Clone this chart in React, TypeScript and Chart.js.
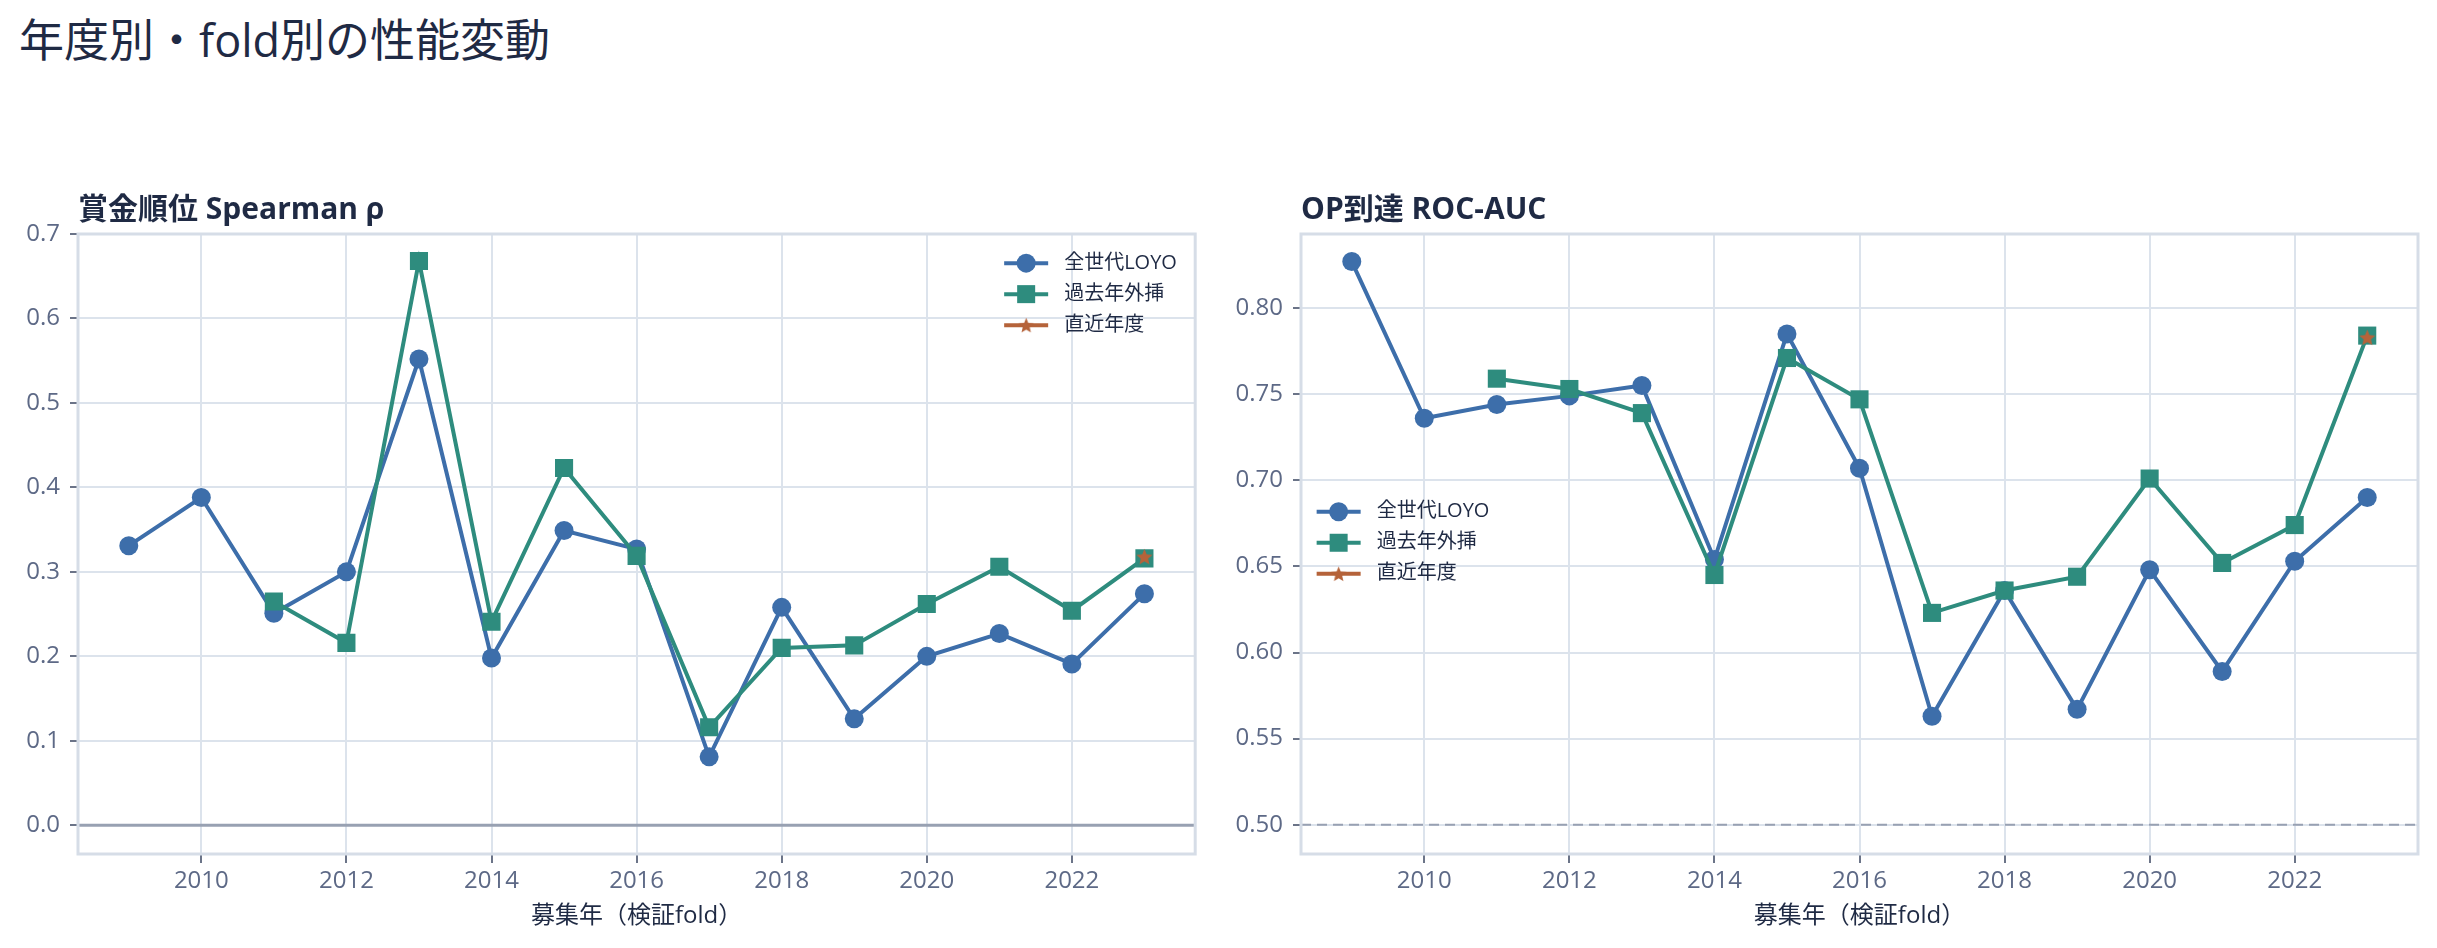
import { Chart, registerables, type ChartConfiguration, type Plugin } from "chart.js";
import { useEffect, useRef } from "react";

Chart.register(...registerables);

const FONT = '"Open Sans", "Noto Sans CJK JP", sans-serif';
const TEXT = "#1f2a44";
const TICK_TEXT = "#5d6986";
const GRID = "#dce3ec";
const FRAME = "#d6dde7";

const YEARS = [2009, 2010, 2011, 2012, 2013, 2014, 2015, 2016, 2017, 2018, 2019, 2020, 2021, 2022, 2023];
const X_TICKS = [2010, 2012, 2014, 2016, 2018, 2020, 2022];

const SERIES_NAMES = ["全世代LOYO", "過去年外挿", "直近年度"];
const SERIES_COLORS = ["#3d6eaa", "#2e8c7e", "#b5633a"];

// 賞金順位 Spearman ρ
const SPEARMAN_LOYO = [0.331, 0.388, 0.251, 0.3, 0.552, 0.198, 0.349, 0.327, 0.081, 0.258, 0.126, 0.2, 0.227, 0.191, 0.274];
const SPEARMAN_EXTRAP = [null, null, 0.265, 0.216, 0.668, 0.241, 0.423, 0.319, 0.116, 0.21, 0.213, 0.262, 0.306, 0.254, 0.316];
const SPEARMAN_RECENT = [null, null, null, null, null, null, null, null, null, null, null, null, null, null, 0.318];
const SPEARMAN_Y_TICKS = [0, 0.1, 0.2, 0.3, 0.4, 0.5, 0.6, 0.7];

// OP到達 ROC-AUC
const AUC_LOYO = [0.827, 0.736, 0.744, 0.749, 0.755, 0.654, 0.785, 0.707, 0.563, 0.636, 0.567, 0.648, 0.589, 0.653, 0.69];
const AUC_EXTRAP = [null, null, 0.759, 0.753, 0.739, 0.645, 0.771, 0.747, 0.623, 0.636, 0.644, 0.701, 0.652, 0.674, 0.784];
const AUC_RECENT = [null, null, null, null, null, null, null, null, null, null, null, null, null, null, 0.783];
const AUC_Y_TICKS = [0.5, 0.55, 0.6, 0.65, 0.7, 0.75, 0.8];

type Num = number | null;

function makeStar(size: number, color: string): HTMLCanvasElement {
  const c = document.createElement("canvas");
  c.width = size;
  c.height = size;
  const ctx = c.getContext("2d")!;
  const cx = size / 2;
  const cy = size / 2 + size * 0.05;
  const R = size / 2;
  const r = R * 0.45;
  ctx.beginPath();
  for (let i = 0; i < 10; i++) {
    const a = -Math.PI / 2 + (i * Math.PI) / 5;
    const rad = i % 2 ? r : R;
    ctx.lineTo(cx + rad * Math.cos(a), cy + rad * Math.sin(a));
  }
  ctx.closePath();
  ctx.fillStyle = color;
  ctx.fill();
  return c;
}

type PanelProps = {
  title: string;
  loyo: Num[];
  extrap: Num[];
  recent: Num[];
  yTicks: number[];
  yMin: number;
  yMax: number;
  decimals: number;
  baseline: number;
  baselineDash: number[];
  legendAt: [number, number];
  yAxisWidth: number;
  padRight: number;
  left: number;
  width: number;
};

const TOP = 170;
const HEIGHT = 948 - TOP;

function Panel(p: PanelProps) {
  const canvasRef = useRef<HTMLCanvasElement>(null);

  useEffect(() => {
    const canvas = canvasRef.current;
    if (!canvas) return;
    const star = makeStar(17, SERIES_COLORS[2]);
    const toPts = (vals: Num[]) => YEARS.map((x, i) => ({ x, y: vals[i] }));

    const framePlugin: Plugin = {
      id: "frame",
      beforeDatasetsDraw(chart) {
        const { ctx, chartArea: a } = chart;
        const yb = chart.scales.y.getPixelForValue(p.baseline);
        ctx.save();
        ctx.strokeStyle = "#98a1b2";
        ctx.lineWidth = p.baselineDash.length ? 2 : 3;
        ctx.setLineDash(p.baselineDash);
        ctx.beginPath();
        ctx.moveTo(a.left, yb);
        ctx.lineTo(a.right, yb);
        ctx.stroke();
        ctx.setLineDash([]);
        ctx.strokeStyle = FRAME;
        ctx.lineWidth = 3;
        ctx.strokeRect(a.left, a.top, a.right - a.left, a.bottom - a.top);
        ctx.restore();
      },
      afterDraw(chart) {
        const { ctx, chartArea: a } = chart;
        ctx.save();
        // panel title
        ctx.font = `bold 30px ${FONT}`;
        ctx.fillStyle = TEXT;
        ctx.textAlign = "left";
        ctx.textBaseline = "alphabetic";
        ctx.fillText(p.title, a.left, a.top - 15);
        // legend inside the plot
        const x0 = a.left + p.legendAt[0] * (a.right - a.left);
        let y = a.top + p.legendAt[1] * (a.bottom - a.top);
        ctx.font = `20px ${FONT}`;
        ctx.textBaseline = "middle";
        SERIES_NAMES.forEach((name, i) => {
          const color = SERIES_COLORS[i];
          ctx.strokeStyle = color;
          ctx.lineWidth = 4;
          ctx.beginPath();
          ctx.moveTo(x0, y);
          ctx.lineTo(x0 + 44, y);
          ctx.stroke();
          ctx.fillStyle = color;
          const mx = x0 + 22;
          if (i === 0) {
            ctx.beginPath();
            ctx.arc(mx, y, 9.5, 0, Math.PI * 2);
            ctx.fill();
          } else if (i === 1) {
            ctx.fillRect(mx - 9, y - 9, 18, 18);
          } else {
            ctx.drawImage(star, mx - 8, y - 8, 16, 16);
          }
          ctx.fillStyle = TEXT;
          ctx.fillText(name, x0 + 60, y);
          y += 31;
        });
        ctx.restore();
      },
    };

    const config: ChartConfiguration<"line", { x: number; y: Num }[]> = {
      type: "line",
      data: {
        datasets: [
          {
            label: SERIES_NAMES[0],
            data: toPts(p.loyo) as any,
            borderColor: SERIES_COLORS[0],
            backgroundColor: SERIES_COLORS[0],
            borderWidth: 4,
            pointStyle: "circle",
            pointRadius: 9.5,
            pointBorderWidth: 0,
            order: 3,
          },
          {
            label: SERIES_NAMES[1],
            data: toPts(p.extrap) as any,
            borderColor: SERIES_COLORS[1],
            backgroundColor: SERIES_COLORS[1],
            borderWidth: 4,
            pointStyle: "rect",
            pointRadius: 12.8,
            pointBorderWidth: 0,
            order: 2,
          },
          {
            label: SERIES_NAMES[2],
            data: toPts(p.recent) as any,
            borderColor: SERIES_COLORS[2],
            backgroundColor: SERIES_COLORS[2],
            borderWidth: 4,
            pointStyle: star,
            pointRadius: 8,
            order: 1,
          },
        ],
      },
      options: {
        animation: false,
        responsive: false,
        devicePixelRatio: 1,
        events: [],
        layout: { padding: { left: 0, right: p.padRight, top: 64, bottom: 14 } },
        plugins: { legend: { display: false }, tooltip: { enabled: false } },
        scales: {
          x: {
            type: "linear",
            min: 2008.3,
            max: 2023.7,
            afterBuildTicks: (s) => {
              s.ticks = X_TICKS.map((value) => ({ value }));
            },
            afterFit: (s) => {
              s.height = 80;
            },
            ticks: {
              callback: (v) => String(v),
              font: { size: 24, family: FONT },
              color: TICK_TEXT,
              padding: 4,
              maxRotation: 0,
              autoSkip: false,
            },
            grid: { color: GRID, lineWidth: 2, tickColor: "#6b7488", tickLength: 9, tickWidth: 2 },
            border: { display: false },
            title: {
              display: true,
              text: "募集年（検証fold）",
              font: { size: 24, family: FONT },
              color: TEXT,
              padding: { top: 4, bottom: 3 },
            },
          },
          y: {
            type: "linear",
            min: p.yMin,
            max: p.yMax,
            afterBuildTicks: (s) => {
              s.ticks = p.yTicks.map((value) => ({ value }));
            },
            afterFit: (s) => {
              s.width = p.yAxisWidth;
            },
            ticks: {
              callback: (v) => Number(v).toFixed(p.decimals),
              font: { size: 24, family: FONT },
              color: TICK_TEXT,
              padding: 10,
              autoSkip: false,
            },
            grid: { color: GRID, lineWidth: 2, tickColor: "#6b7488", tickLength: 8, tickWidth: 2 },
            border: { display: false },
          },
        },
      },
      plugins: [framePlugin],
    };

    const chart = new Chart(canvas, config as ChartConfiguration);
    return () => chart.destroy();
  }, [p]);

  return (
    <canvas
      ref={canvasRef}
      width={p.width}
      height={HEIGHT}
      style={{ position: "absolute", left: p.left, top: TOP, width: p.width, height: HEIGHT }}
    />
  );
}

const LEFT_PANEL: PanelProps = {
  title: "賞金順位 Spearman ρ",
  loyo: SPEARMAN_LOYO,
  extrap: SPEARMAN_EXTRAP,
  recent: SPEARMAN_RECENT,
  yTicks: SPEARMAN_Y_TICKS,
  yMin: -0.034,
  yMax: 0.7,
  decimals: 1,
  baseline: 0,
  baselineDash: [],
  legendAt: [0.829, 0.047],
  yAxisWidth: 78,
  padRight: 5,
  left: 0,
  width: 1208,
};

const RIGHT_PANEL: PanelProps = {
  title: "OP到達 ROC-AUC",
  loyo: AUC_LOYO,
  extrap: AUC_EXTRAP,
  recent: AUC_RECENT,
  yTicks: AUC_Y_TICKS,
  yMin: 0.483,
  yMax: 0.843,
  decimals: 2,
  baseline: 0.5,
  baselineDash: [10, 6],
  legendAt: [0.014, 0.448],
  yAxisWidth: 93,
  padRight: 19,
  left: 1208,
  width: 1229,
};

export default function App() {
  Chart.defaults.font.family = FONT;
  return (
    <div
      style={{
        position: "absolute",
        left: 0,
        top: 0,
        width: 2437,
        height: 948,
        background: "#ffffff",
        fontFamily: FONT,
        overflow: "hidden",
      }}
    >
      <div
        style={{
          position: "absolute",
          left: 19,
          top: 17,
          fontSize: 45,
          lineHeight: "45px",
          color: TEXT,
          whiteSpace: "nowrap",
        }}
      >
        年度別・fold別の性能変動
      </div>
      <Panel {...LEFT_PANEL} />
      <Panel {...RIGHT_PANEL} />
    </div>
  );
}
